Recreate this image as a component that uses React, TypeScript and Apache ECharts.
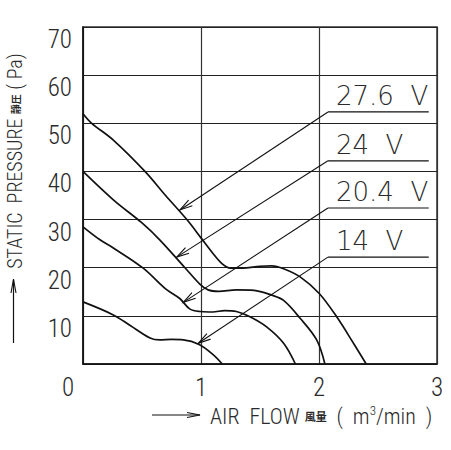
import React, { useEffect, useRef } from "react";
import * as echarts from "echarts";

const xTicks = [0, 1, 2, 3];
const yTicks = [0, 10, 20, 30, 40, 50, 60, 70];
const curveLabels = ["27.6  V", "24  V", "20.4  V", "14  V"];

const curve276 = [[0, 52], [0.074, 50], [0.257, 46.5], [0.525, 40], [0.7, 35], [0.88, 30], [1.0, 26.2], [1.1, 23], [1.18, 20.8], [1.25, 19.9], [1.35, 19.9], [1.5, 20.3], [1.6, 20.4], [1.7, 19.8], [1.84, 18.1], [2.0, 14.7], [2.15, 9.8], [2.3, 4], [2.4, 0]];
const curve24 = [[0, 40], [0.257, 34.1], [0.5, 29.3], [0.65, 25.8], [0.864, 20], [0.99, 16.6], [1.06, 15.4], [1.15, 15.1], [1.3, 15.4], [1.45, 15.3], [1.6, 14.3], [1.7, 13.2], [1.84, 9.5], [1.98, 5], [2.05, 0]];
const curve204 = [[0, 28.5], [0.144, 25.8], [0.257, 24.1], [0.51, 19.9], [0.7, 15.6], [0.82, 13.6], [0.907, 11.4], [1.0, 10.9], [1.1, 10.8], [1.2, 11.1], [1.3, 10.9], [1.415, 9.8], [1.556, 7.7], [1.7, 4.3], [1.8, 0]];
const curve14 = [[0, 12.9], [0.257, 10.2], [0.4, 8], [0.568, 5.4], [0.65, 5], [0.75, 5.1], [0.85, 5], [0.98, 4.1], [1.1, 2], [1.18, 0]];
const curves = [curve276, curve24, curve204, curve14];

// annotation anchors (data coordinates)
const arrowTips = [[0.822, 32], [0.794, 22.2], [0.85, 12.8], [0.977, 4.3]];
const labelLevels = [52.35, 42.2, 32.4, 22.2];
const labelStartX = 2.076;
const labelEndX = 2.93;

const ROBOC = "'Roboto Condensed', 'DejaVu Sans', sans-serif";
const THIN = "'DejaVu Sans', sans-serif";
const CJK = "'Noto Sans CJK JP', sans-serif";
const INK = "#111";
const TXT = "#2a2a2a";

export default function App() {
  const ref = useRef<HTMLDivElement>(null);
  useEffect(() => {
    const el = ref.current;
    if (!el) return;
    const chart = echarts.init(el, null, { renderer: "svg" });
    const option: any = {
      animation: false,
      backgroundColor: "#fff",
      grid: {
        left: 83, right: 14, top: 27, bottom: 86,
        show: true, borderColor: "#333", borderWidth: 1.5,
      },
      xAxis: {
        type: "value", min: xTicks[0], max: xTicks[xTicks.length - 1], interval: 1,
        axisLine: { show: true, lineStyle: { color: INK, width: 1.5 } },
        axisTick: { show: false },
        splitLine: { show: true, lineStyle: { color: "#333", width: 1.2 } },
        axisLabel: {
          margin: 11, color: TXT, fontFamily: ROBOC, fontWeight: 300, fontSize: 25,
          formatter: (v: number) => (v === 0 ? "" : String(v)),
        },
      },
      yAxis: {
        type: "value", min: yTicks[0], max: yTicks[yTicks.length - 1], interval: 10,
        axisLine: { show: true, lineStyle: { color: INK, width: 1.5 } },
        axisTick: { show: false },
        splitLine: { show: true, lineStyle: { color: "#222", width: 1.2 } },
        axisLabel: {
          margin: 11, color: TXT, fontFamily: ROBOC, fontWeight: 300, fontSize: 25,
          verticalAlign: "top",
          formatter: (v: number) => (v === 0 ? "" : String(v)),
        },
      },
      series: curves.map((c, i) => ({
        type: "line", name: curveLabels[i], data: c, smooth: 0.35,
        symbol: "none", lineStyle: { color: INK, width: 1.7 }, silent: true,
      })),
    };
    chart.setOption(option);

    const px = (p: number[]) => chart.convertToPixel({ gridIndex: 0 }, p) as number[];
    const g: any[] = [];
    curveLabels.forEach((name, i) => {
      const a = px([labelStartX, labelLevels[i]]);
      const b = px([labelEndX, labelLevels[i]]);
      const t = px(arrowTips[i]);
      g.push({ type: "line", shape: { x1: a[0], y1: a[1], x2: b[0], y2: b[1] }, style: { stroke: INK, lineWidth: 1.2 } });
      g.push({ type: "line", shape: { x1: a[0], y1: a[1], x2: t[0], y2: t[1] }, style: { stroke: INK, lineWidth: 1.1 } });
      const dx = a[0] - t[0], dy = a[1] - t[1];
      const L = Math.hypot(dx, dy);
      const ux = dx / L, uy = dy / L;
      const ang = 0.26, len = 13;
      const rot = (c: number, s: number) => [t[0] + len * (ux * c - uy * s), t[1] + len * (ux * s + uy * c)];
      const p1 = rot(Math.cos(ang), Math.sin(ang));
      const p2 = rot(Math.cos(ang), -Math.sin(ang));
      g.push({ type: "polyline", shape: { points: [p1, t, p2] }, style: { stroke: INK, lineWidth: 1.1, fill: null } });
      g.push({
        type: "text", x: a[0] + 8, y: a[1] - 3,
        style: { text: name, fill: TXT, fontFamily: THIN, fontWeight: 200, fontSize: 26, align: "left", verticalAlign: "bottom" },
      });
    });
    // origin label
    g.push({ type: "text", x: 68, y: 387, style: { text: "0", fill: TXT, fontFamily: ROBOC, fontWeight: 300, fontSize: 25, align: "center", verticalAlign: "middle" } });
    // y axis name
    g.push({
      type: "text", x: 15, y: 161, rotation: Math.PI / 2,
      style: {
        text: "{a|STATIC  PRESSURE }{c|靜圧}{a| ( Pa)}",
        align: "center", verticalAlign: "middle", fill: TXT,
        rich: {
          a: { fontFamily: ROBOC, fontWeight: 300, fontSize: 20, fill: TXT, lineHeight: 22 },
          c: { fontFamily: CJK, fontSize: 10, fill: TXT, fontWeight: "bold", lineHeight: 22 },
        },
      },
    });
    g.push({ type: "line", shape: { x1: 13.5, y1: 343, x2: 13.5, y2: 280 }, style: { stroke: INK, lineWidth: 1.2 } });
    g.push({ type: "polyline", shape: { points: [[11, 293], [13.5, 279], [16, 293]] }, style: { stroke: INK, lineWidth: 1.1, fill: null } });
    // x axis name
    g.push({ type: "line", shape: { x1: 152, y1: 415, x2: 200, y2: 415 }, style: { stroke: INK, lineWidth: 1.2 } });
    g.push({ type: "polyline", shape: { points: [[187, 412.5], [200, 415], [187, 417.5]] }, style: { stroke: INK, lineWidth: 1.1, fill: null } });
    g.push({
      type: "text", x: 210, y: 416,
      style: {
        text: "{a|AIR  FLOW }{c|風量}{a|  (  m}{s|3}{a|/min  )}",
        align: "left", verticalAlign: "middle", fill: TXT,
        rich: {
          a: { fontFamily: ROBOC, fontWeight: 300, fontSize: 22, fill: TXT, lineHeight: 24 },
          c: { fontFamily: CJK, fontSize: 11, fill: TXT, fontWeight: "bold", lineHeight: 24 },
          s: { fontFamily: ROBOC, fontWeight: 300, fontSize: 13, fill: TXT, lineHeight: 24, verticalAlign: "top" },
        },
      },
    });
    chart.setOption({ graphic: g });
    return () => chart.dispose();
  }, []);
  return <div ref={ref} style={{ width: 451, height: 450, position: "absolute", left: 0, top: 0 }} />;
}
